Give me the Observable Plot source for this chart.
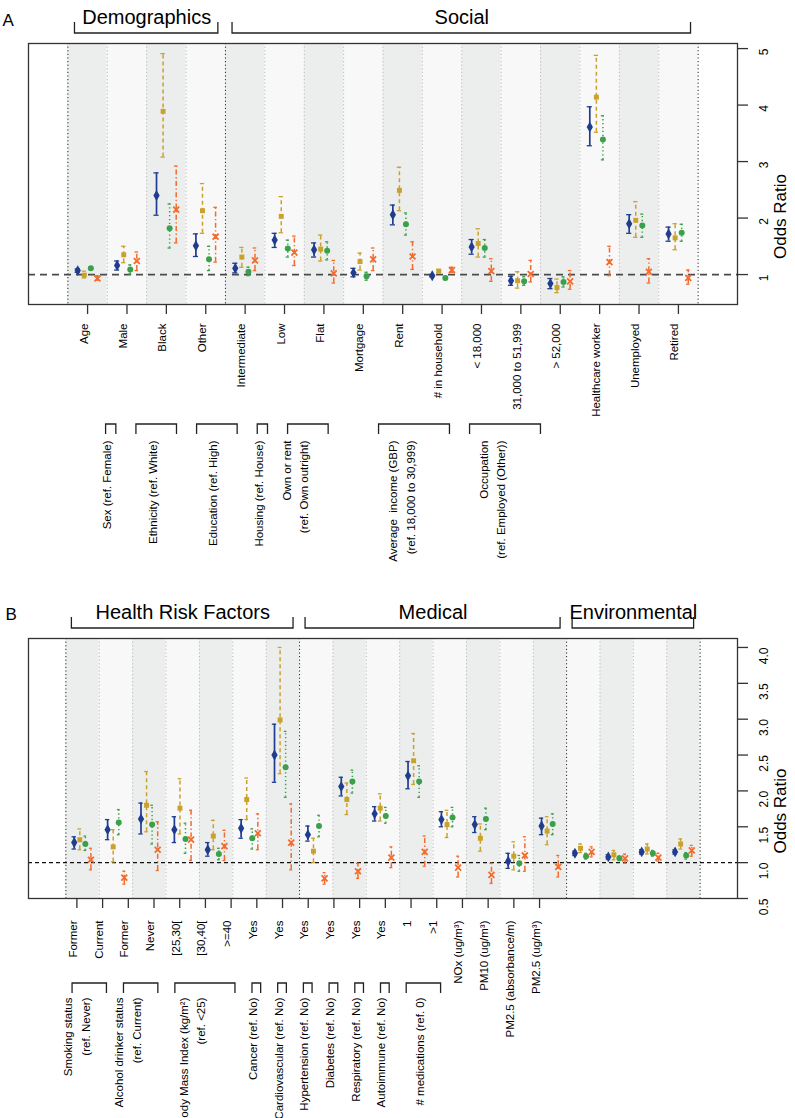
<!DOCTYPE html>
<html><head><meta charset="utf-8">
<script src="https://cdn.jsdelivr.net/npm/d3@7"></script>
<script src="https://cdn.jsdelivr.net/npm/@observablehq/plot@0.6"></script>
<style>
body{margin:0;background:#fff;}
#fig{width:795px;height:1118px;overflow:hidden;}
#fig svg{display:block;}
#fig svg text{white-space:pre;}
</style></head><body><div id="fig"></div>
<script>
// ---------------- DATA ----------------
// Panel A categories
const catsA = ["Age","Male","Black","Other","Intermediate","Low","Flat","Mortgage","Rent","# in household","< 18,000","31,000 to 51,999","> 52,000","Healthcare worker","Unemployed","Retired"];
// [odds ratio, lower CI, upper CI] per category, four models
const aModel1 = [[1.07,1.04,1.10],[1.16,1.08,1.24],[2.40,2.05,2.80],[1.51,1.32,1.72],[1.11,1.03,1.20],[1.61,1.48,1.73],[1.44,1.31,1.56],[1.03,0.96,1.11],[2.06,1.88,2.23],[0.98,0.96,1.00],[1.49,1.36,1.62],[0.89,0.81,0.97],[0.84,0.75,0.93],[3.61,3.28,3.97],[1.90,1.73,2.06],[1.72,1.59,1.84]];
const aModel2 = [[0.99,0.94,1.06],[1.35,1.21,1.50],[3.89,3.08,4.91],[2.13,1.73,2.61],[1.31,1.13,1.48],[2.03,1.74,2.38],[1.45,1.24,1.70],[1.23,1.08,1.38],[2.49,2.13,2.90],[1.06,1.03,1.09],[1.55,1.31,1.81],[0.89,0.76,1.05],[0.77,0.68,0.92],[4.14,3.52,4.88],[1.96,1.66,2.29],[1.65,1.44,1.90]];
const aModel3 = [[1.11,1.08,1.14],[1.09,1.01,1.17],[1.82,1.47,2.25],[1.27,1.07,1.50],[1.05,0.98,1.13],[1.46,1.31,1.61],[1.42,1.26,1.58],[0.97,0.90,1.04],[1.89,1.70,2.09],[0.94,0.91,0.97],[1.47,1.31,1.62],[0.88,0.81,0.96],[0.87,0.78,0.96],[3.39,3.03,3.81],[1.87,1.66,2.07],[1.74,1.59,1.89]];
const aModel4 = [[0.93,0.90,0.98],[1.24,1.07,1.40],[2.15,1.56,2.92],[1.67,1.22,2.19],[1.25,1.07,1.47],[1.39,1.16,1.68],[1.02,0.85,1.25],[1.27,1.07,1.47],[1.32,1.09,1.58],[1.08,1.04,1.13],[1.06,0.88,1.28],[1.01,0.87,1.25],[0.88,0.74,1.07],[1.22,0.98,1.50],[1.05,0.85,1.28],[0.94,0.83,1.08]];
const aTopGroups = [{label:"Demographics", from:0, to:3},{label:"Social", from:4, to:15}];
const aVarGroups = [
  {label:"Sex (ref. Female)", from:1, to:1},
  {label:"Ethnicity (ref. White)", from:2, to:3},
  {label:"Education (ref. High)", from:4, to:5},
  {label:"Housing (ref. House)", from:6, to:6},
  {label:"Own or rent\n(ref. Own outright)", from:7, to:8},
  {label:"Average  income (GBP)\n(ref. 18,000 to 30,999)", from:10, to:12},
  {label:"Occupation\n(ref. Employed (Other))", from:13, to:15}
];
const aYTicks = [1,2,3,4,5];

// Panel B categories
const catsB = ["Former","Current","Former","Never","[25,30[","[30,40[",">=40","Yes","Yes","Yes","Yes","Yes","Yes","1",">1","NOx (ug/m³)","PM10 (ug/m³)","PM2.5 (absorbance/m)","PM2.5 (ug/m³)"];
const bModel1 = [[1.28,1.19,1.36],[1.46,1.32,1.60],[1.61,1.40,1.83],[1.46,1.28,1.64],[1.18,1.09,1.28],[1.48,1.34,1.60],[2.50,2.12,2.93],[1.39,1.30,1.51],[2.06,1.93,2.19],[1.68,1.58,1.78],[2.21,2.03,2.41],[1.60,1.50,1.71],[1.53,1.42,1.64],[1.02,0.92,1.13],[1.51,1.39,1.62],[1.13,1.10,1.16],[1.08,1.05,1.11],[1.15,1.12,1.18],[1.15,1.12,1.18]];
const bModel2 = [[1.32,1.18,1.47],[1.22,1.01,1.46],[1.80,1.43,2.27],[1.76,1.40,2.17],[1.37,1.18,1.59],[1.88,1.60,2.18],[2.99,2.24,4.00],[1.16,1.00,1.34],[1.88,1.67,2.11],[1.76,1.58,1.96],[2.42,2.09,2.80],[1.53,1.35,1.73],[1.34,1.16,1.54],[1.09,0.90,1.29],[1.44,1.25,1.64],[1.20,1.14,1.26],[1.11,1.04,1.17],[1.19,1.12,1.26],[1.26,1.19,1.33]];
const bModel3 = [[1.26,1.17,1.37],[1.56,1.39,1.74],[1.53,1.26,1.80],[1.33,1.13,1.55],[1.12,1.04,1.20],[1.34,1.19,1.47],[2.33,1.91,2.83],[1.51,1.36,1.66],[2.13,1.97,2.29],[1.65,1.55,1.77],[2.13,1.91,2.35],[1.63,1.50,1.77],[1.61,1.46,1.76],[0.99,0.88,1.10],[1.54,1.39,1.68],[1.09,1.05,1.13],[1.06,1.03,1.09],[1.13,1.09,1.17],[1.10,1.05,1.14]];
const bModel4 = [[1.04,0.90,1.20],[0.79,0.70,0.88],[1.18,0.89,1.57],[1.32,1.03,1.73],[1.23,1.03,1.45],[1.41,1.18,1.68],[1.28,0.90,1.82],[0.78,0.70,0.86],[0.88,0.78,0.99],[1.07,0.93,1.22],[1.15,0.95,1.37],[0.93,0.80,1.09],[0.83,0.71,0.99],[1.10,0.88,1.36],[0.94,0.80,1.10],[1.15,1.08,1.22],[1.06,0.99,1.12],[1.07,1.02,1.13],[1.17,1.09,1.24]];
const bTopGroups = [{label:"Health Risk Factors", from:0, to:6},{label:"Medical", from:7, to:14},{label:"Environmental", from:15, to:18}];
const bVarGroups = [
  {label:"Smoking status\n(ref. Never)", from:0, to:1},
  {label:"Alcohol drinker status\n(ref. Current)", from:2, to:3},
  {label:"Body Mass Index (kg/m²)\n(ref. <25)", from:4, to:6},
  {label:"Cancer (ref. No)", from:7, to:7},
  {label:"Cardiovascular (ref. No)", from:8, to:8},
  {label:"Hypertension (ref. No)", from:9, to:9},
  {label:"Diabetes (ref. No)", from:10, to:10},
  {label:"Respiratory (ref. No)", from:11, to:11},
  {label:"Autoimmune (ref. No)", from:12, to:12},
  {label:"# medications (ref. 0)", from:13, to:14}
];
const bYTicks = [0.5,1,1.5,2,2.5,3,3.5,4];

// ---------------- STYLE ----------------
const offs = [-0.25, -0.083, 0.083, 0.25];
const colors = ["#1f3c8e","#c9a22e","#3aa04a","#f26b2c"];
const dashes = [undefined, "4,3", "1.3,2.6", "5,2.5,1.3,2.5"];
const symbols = ["diamond","square","circle","times"];
const radii = [3.3, 2.8, 3.0, 2.8];
const capW = [0.065, 0.055, 0.04, 0.045];
const squeeze = i => 0.77 * i - 0.17;   // compressed label coordinate used under the panels
const FONT = "'Liberation Sans', Arial, Helvetica, sans-serif";
const SMALL = 11.5;

function toRows(models) {
  return models.flatMap((m, s) => m.map(([est, lo, hi], i) => ({s, i, x: i + offs[s], est, lo, hi})));
}

function seriesMarks(rows) {
  const out = [];
  for (let s = 0; s < 4; s++) {
    const r = rows.filter(d => d.s === s);
    out.push(Plot.ruleX(r, {x: "x", y1: "lo", y2: "hi", stroke: colors[s], strokeWidth: s === 0 ? 1.7 : 1.5, strokeDasharray: dashes[s]}));
    out.push(Plot.ruleY(r, {y: "hi", x1: d => d.x - capW[s], x2: d => d.x + capW[s], stroke: colors[s], strokeWidth: 1.3}));
    out.push(Plot.ruleY(r, {y: "lo", x1: d => d.x - capW[s], x2: d => d.x + capW[s], stroke: colors[s], strokeWidth: 1.3}));
    if (symbols[s] === "times")
      out.push(Plot.dot(r, {x: "x", y: "est", symbol: "times", r: radii[s], stroke: colors[s], strokeWidth: 1.8}));
    else
      out.push(Plot.dot(r, {x: "x", y: "est", symbol: symbols[s], r: radii[s], fill: colors[s], stroke: "none"}));
  }
  return out;
}

// bracket drawn relative to the frame edge; x through the plot's x scale
function brackets(groups, x1Of, x2Of, edge, yLine, yLeg) {
  return (index, scales, values, dims) => {
    const g = d3.create("svg:g").attr("fill", "none").attr("stroke", "#222").attr("stroke-width", 1.3);
    const base = edge === "top" ? dims.marginTop : dims.height - dims.marginBottom;
    for (const gr of groups) {
      const xa = scales.x(x1Of(gr)), xb = scales.x(x2Of(gr));
      g.append("path").attr("d", `M${xa},${base + yLeg}V${base + yLine}H${xb}V${base + yLeg}`);
    }
    return g.node();
  };
}

function panel(cfg) {
  const n = cfg.cats.length;
  const rows = toRows(cfg.models);
  const idx = d3.range(n);
  const darkB = [-0.5, ...cfg.topGroups.map(g => g.to + 0.5)];
  const lightB = d3.range(n - 1).map(i => i + 0.5).filter(b => !darkB.includes(b));
  const tickPos = cfg.squeezeTicks ? idx.map(squeeze) : idx;
  return Plot.plot({
    width: 795, height: cfg.height,
    marginLeft: 28, marginRight: 58, marginTop: cfg.marginTop, marginBottom: cfg.marginBottom,
    x: {type: "linear", domain: cfg.xDomain, axis: null},
    y: {type: "linear", domain: cfg.yDomain, axis: null},
    style: `font-family:${FONT};font-size:11px;background:white;color:#000;overflow:visible;`,
    marks: [
      Plot.rect(idx.filter(i => i % 2 === 0), {x1: i => i - 0.5, x2: i => i + 0.5, fill: "#eceeed"}),
      Plot.rect(idx.filter(i => i % 2 === 1), {x1: i => i - 0.5, x2: i => i + 0.5, fill: "#f8f8f8"}),
      Plot.ruleX(lightB, {stroke: "#b9b9b9", strokeDasharray: "1.2,2.4", strokeWidth: 1}),
      Plot.ruleX(darkB, {stroke: "#222", strokeDasharray: "1.2,2.4", strokeWidth: 1}),
      Plot.ruleY([1], {stroke: cfg.refStroke, strokeDasharray: cfg.refDash, strokeWidth: cfg.refWidth}),
      ...seriesMarks(rows),
      Plot.frame({stroke: "#333", strokeWidth: 1.3}),
      // right y axis
      Plot.axisY({anchor: "right", ticks: cfg.yTicks, tickSize: 10, tickFormat: () => "", label: null, strokeWidth: 1.3, stroke: "#333"}),
      Plot.text(cfg.yTicks, {y: d => d, text: cfg.yFmt, frameAnchor: "right", dx: 27, rotate: -90, fontSize: 12}),
      Plot.text(["Odds Ratio"], {frameAnchor: "right", dx: 43, rotate: -90, fontSize: 17}),
      // category ticks and labels
      Plot.axisX({anchor: "bottom", ticks: tickPos, tickSize: 10, tickFormat: () => "", label: null, strokeWidth: 1.3, stroke: "#333"}),
      Plot.text(cfg.cats, {x: (d, i) => tickPos[i], text: d => d, frameAnchor: "bottom", dy: cfg.catDy, rotate: -90, textAnchor: "end", fontSize: SMALL}),
      // variable group brackets below
      brackets(cfg.varGroups, g => squeeze(g.from) - 0.13, g => squeeze(g.to) + 0.13, "bottom", cfg.varLine, cfg.varLeg),
      Plot.text(cfg.varGroups, {x: g => (squeeze(g.from) + squeeze(g.to)) / 2, text: "label", frameAnchor: "bottom", dy: cfg.varDy, rotate: -90, textAnchor: "end", lineHeight: 1.55, fontSize: SMALL}),
      // domain brackets above
      brackets(cfg.topGroups, g => g.from - 0.5 + 0.18, g => g.to + 0.5 - 0.18, "top", -10, -21),
      Plot.text(cfg.topGroups, {x: g => (g.from + g.to) / 2, text: "label", frameAnchor: "top", dy: -34, fontSize: 20}),
      Plot.text([cfg.letter], {frameAnchor: "top-left", dx: cfg.letterDx, dy: cfg.letterDy, textAnchor: "start", fontSize: 17})
    ]
  });
}

const fig = document.getElementById("fig");
fig.append(panel({
  cats: catsA, models: [aModel1, aModel2, aModel3, aModel4],
  topGroups: aTopGroups, varGroups: aVarGroups,
  height: 570, marginTop: 43, marginBottom: 266,
  xDomain: [-1.5, 16.5], yDomain: [0.47, 5.09],
  yTicks: aYTicks, yFmt: d => d3.format("d")(d),
  refStroke: "#4a4a4a", refDash: "7,5", refWidth: 1.7,
  squeezeTicks: false, catDy: 19,
  varLine: 120, varLeg: 130, varDy: 136,
  letter: "A", letterDx: -26, letterDy: -30
}));
fig.append(panel({
  cats: catsB, models: [bModel1, bModel2, bModel3, bModel4],
  topGroups: bTopGroups, varGroups: bVarGroups,
  height: 548, marginTop: 68, marginBottom: 220,
  xDomain: [-1.62, 19.62], yDomain: [0.5, 4.125],
  yTicks: bYTicks, yFmt: d => d3.format(".1f")(d),
  refStroke: "#111", refDash: "4,3", refWidth: 1.1,
  squeezeTicks: true, catDy: 22,
  varLine: 85, varLeg: 95, varDy: 99,
  letter: "B", letterDx: -23, letterDy: -31
}));
</script></body></html>
